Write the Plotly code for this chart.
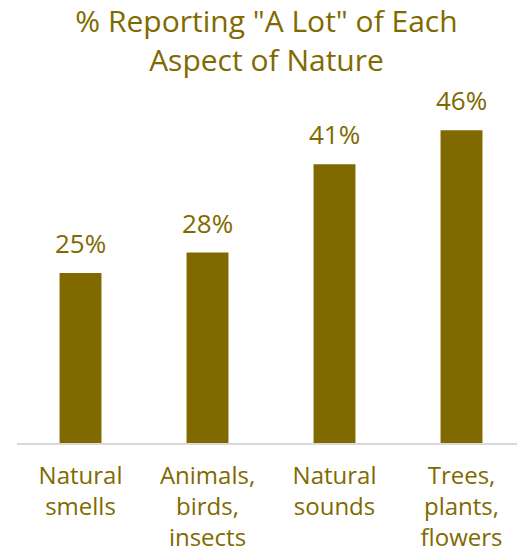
import plotly.graph_objects as go

categories = ["Natural<br>smells", "Animals,<br>birds,<br>insects", "Natural<br>sounds", "Trees,<br>plants,<br>flowers"]
values = [25, 28, 41, 46]
labels = ["25%", "28%", "41%", "46%"]
title_text = '% Reporting "A Lot" of Each<br>Aspect of Nature'

COLOR = "#806A00"
FONT = "Open Sans, sans-serif"

fig = go.Figure(go.Bar(
    x=categories, y=values,
    marker=dict(color=COLOR, line=dict(width=0)),
    cliponaxis=False, width=0.33,
))

for cat, val, lab in zip(categories, values, labels):
    fig.add_annotation(
        x=cat, y=val, text=lab, xref="x", yref="y",
        xanchor="center", yanchor="bottom", yshift=10, showarrow=False,
        font=dict(color=COLOR, size=26, family=FONT),
    )

fig.update_layout(
    width=517, height=544,
    margin=dict(l=9, r=0, t=92, b=109),
    paper_bgcolor="white", plot_bgcolor="white",
    title=dict(text=title_text, x=0.5, xanchor="center", xref="container",
               y=1 - 24 / 544, yref="container", yanchor="middle",
               font=dict(color=COLOR, size=30, family=FONT)),
    xaxis=dict(showline=True, linecolor="#D9D9D9", linewidth=2, automargin=False,
               ticks="outside", ticklen=10, tickcolor="rgba(0,0,0,0)",
               tickfont=dict(color=COLOR, size=24, family=FONT)),
    yaxis=dict(range=[0, 50.44], visible=False, showgrid=False, automargin=False),
    showlegend=False,
)

fig.write_html("out.html")
